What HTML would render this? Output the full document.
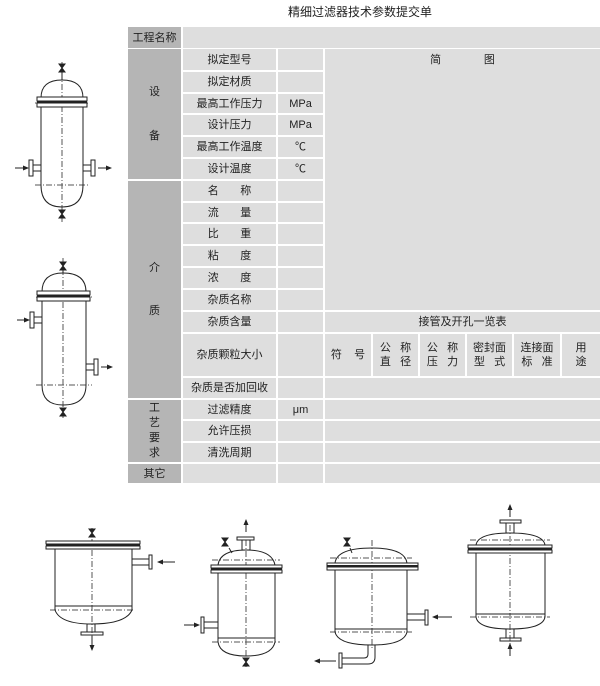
<!DOCTYPE html>
<html><head><meta charset="utf-8">
<style>
html,body{margin:0;padding:0;background:#fff;}
body{width:600px;height:686px;position:relative;overflow:hidden;font-family:"Liberation Sans","Noto Sans CJK SC",sans-serif;font-size:11px;color:#222;}
.c{position:absolute;box-sizing:border-box;display:flex;align-items:center;justify-content:center;text-align:center;line-height:14px;}
.d{background:#b5b5b5;}
.l{background:#dedede;}
#title{position:absolute;left:288px;top:3px;font-size:12px;}
svg{position:absolute;left:0;top:0;}
</style></head><body>
<div id="title">精细过滤器技术参数提交单</div>
<div style="position:absolute;left:128px;top:27px;width:472px;height:456px;background:#fff;"></div>

<!-- column 1 -->
<div class="c d" style="left:128px;top:27px;width:53px;height:21px;">工程名称</div>
<div class="c l" style="left:183px;top:27px;width:417px;height:21px;"></div>
<div class="c d" style="left:128px;top:49px;width:53px;height:130px;flex-direction:column;"><span>设</span><span style="margin-top:30px">备</span></div>
<div class="c d" style="left:128px;top:181px;width:53px;height:217px;flex-direction:column;"><span>介</span><span style="margin-top:29px">质</span></div>
<div class="c d" style="left:128px;top:400px;width:53px;height:62px;flex-direction:column;line-height:15px;"><span>工</span><span>艺</span><span>要</span><span>求</span></div>
<div class="c d" style="left:128px;top:464px;width:53px;height:19px;">其它</div>

<!-- col2 / col3 rows -->
<div class="c l" style="left:183px;top:49px;width:93px;height:21px;">拟定型号</div>
<div class="c l" style="left:278px;top:49px;width:45px;height:21px;"></div>
<div class="c l" style="left:183px;top:72px;width:93px;height:20px;">拟定材质</div>
<div class="c l" style="left:278px;top:72px;width:45px;height:20px;"></div>
<div class="c l" style="left:183px;top:94px;width:93px;height:19px;">最高工作压力</div>
<div class="c l" style="left:278px;top:94px;width:45px;height:19px;">MPa</div>
<div class="c l" style="left:183px;top:115px;width:93px;height:20px;">设计压力</div>
<div class="c l" style="left:278px;top:115px;width:45px;height:20px;">MPa</div>
<div class="c l" style="left:183px;top:137px;width:93px;height:20px;">最高工作温度</div>
<div class="c l" style="left:278px;top:137px;width:45px;height:20px;">℃</div>
<div class="c l" style="left:183px;top:159px;width:93px;height:20px;">设计温度</div>
<div class="c l" style="left:278px;top:159px;width:45px;height:20px;">℃</div>
<div class="c l" style="left:183px;top:181px;width:93px;height:20px;">名&nbsp;&nbsp;&nbsp;&nbsp;&nbsp;&nbsp;&nbsp;称</div>
<div class="c l" style="left:278px;top:181px;width:45px;height:20px;"></div>
<div class="c l" style="left:183px;top:203px;width:93px;height:19px;">流&nbsp;&nbsp;&nbsp;&nbsp;&nbsp;&nbsp;&nbsp;量</div>
<div class="c l" style="left:278px;top:203px;width:45px;height:19px;"></div>
<div class="c l" style="left:183px;top:224px;width:93px;height:20px;">比&nbsp;&nbsp;&nbsp;&nbsp;&nbsp;&nbsp;&nbsp;重</div>
<div class="c l" style="left:278px;top:224px;width:45px;height:20px;"></div>
<div class="c l" style="left:183px;top:246px;width:93px;height:20px;">粘&nbsp;&nbsp;&nbsp;&nbsp;&nbsp;&nbsp;&nbsp;度</div>
<div class="c l" style="left:278px;top:246px;width:45px;height:20px;"></div>
<div class="c l" style="left:183px;top:268px;width:93px;height:20px;">浓&nbsp;&nbsp;&nbsp;&nbsp;&nbsp;&nbsp;&nbsp;度</div>
<div class="c l" style="left:278px;top:268px;width:45px;height:20px;"></div>
<div class="c l" style="left:183px;top:290px;width:93px;height:20px;">杂质名称</div>
<div class="c l" style="left:278px;top:290px;width:45px;height:20px;"></div>
<div class="c l" style="left:183px;top:312px;width:93px;height:20px;">杂质含量</div>
<div class="c l" style="left:278px;top:312px;width:45px;height:20px;"></div>
<div class="c l" style="left:183px;top:334px;width:93px;height:42px;">杂质颗粒大小</div>
<div class="c l" style="left:278px;top:334px;width:45px;height:42px;"></div>
<div class="c l" style="left:183px;top:378px;width:93px;height:20px;">杂质是否加回收</div>
<div class="c l" style="left:278px;top:378px;width:45px;height:20px;"></div>
<div class="c l" style="left:183px;top:400px;width:93px;height:19px;">过滤精度</div>
<div class="c l" style="left:278px;top:400px;width:45px;height:19px;">μm</div>
<div class="c l" style="left:183px;top:421px;width:93px;height:20px;">允许压损</div>
<div class="c l" style="left:278px;top:421px;width:45px;height:20px;"></div>
<div class="c l" style="left:183px;top:443px;width:93px;height:19px;">清洗周期</div>
<div class="c l" style="left:278px;top:443px;width:45px;height:19px;"></div>
<div class="c l" style="left:183px;top:464px;width:93px;height:19px;"></div>
<div class="c l" style="left:278px;top:464px;width:45px;height:19px;"></div>

<!-- col4 -->
<div class="c l" style="left:325px;top:49px;width:275px;height:261px;align-items:flex-start;padding-top:4px;">简&nbsp;&nbsp;&nbsp;&nbsp;&nbsp;&nbsp;&nbsp;&nbsp;&nbsp;&nbsp;&nbsp;&nbsp;&nbsp;&nbsp;图</div>
<div class="c l" style="left:325px;top:312px;width:275px;height:20px;">接管及开孔一览表</div>
<div class="c l" style="left:325px;top:334px;width:46px;height:42px;">符&nbsp;&nbsp;&nbsp;&nbsp;号</div>
<div class="c l" style="left:373px;top:334px;width:45px;height:42px;">公&nbsp;&nbsp;&nbsp;称<br>直&nbsp;&nbsp;&nbsp;径</div>
<div class="c l" style="left:420px;top:334px;width:45px;height:42px;">公&nbsp;&nbsp;&nbsp;称<br>压&nbsp;&nbsp;&nbsp;力</div>
<div class="c l" style="left:467px;top:334px;width:45px;height:42px;">密封面<br>型&nbsp;&nbsp;&nbsp;式</div>
<div class="c l" style="left:514px;top:334px;width:46px;height:42px;">连接面<br>标&nbsp;&nbsp;&nbsp;准</div>
<div class="c l" style="left:562px;top:334px;width:38px;height:42px;">用<br>途</div>
<div class="c l" style="left:325px;top:378px;width:275px;height:20px;"></div>
<div class="c l" style="left:325px;top:400px;width:275px;height:19px;"></div>
<div class="c l" style="left:325px;top:421px;width:275px;height:20px;"></div>
<div class="c l" style="left:325px;top:443px;width:275px;height:19px;"></div>
<div class="c l" style="left:325px;top:464px;width:275px;height:19px;"></div>

<svg width="600" height="686" viewBox="0 0 600 686" fill="none" stroke="#222" stroke-width="1">
<defs>
<marker id="ar" markerWidth="6" markerHeight="6" refX="5" refY="3" orient="auto"><path d="M0,0.5 L6,3 L0,5.5 z" fill="#222" stroke="none"/></marker>
<g id="valve"><path d="M-3,-4 L3,-4 L-3,4 L3,4 Z" fill="#222"/></g>
</defs>
<g stroke-dasharray="6,2,1,2" stroke="#555">
<line x1="62" y1="62" x2="62" y2="222"/>
<line x1="63" y1="258" x2="63" y2="420"/>
<line x1="92" y1="528" x2="92" y2="640"/>
<line x1="246" y1="540" x2="246" y2="668"/>
<line x1="372" y1="540" x2="372" y2="650"/>
<line x1="510" y1="525" x2="510" y2="650"/>
<line x1="35" y1="103" x2="90" y2="103"/><line x1="35" y1="185" x2="90" y2="185"/>
<line x1="36" y1="297" x2="92" y2="297"/><line x1="36" y1="385" x2="92" y2="385"/>
<line x1="50" y1="610" x2="135" y2="610"/>
<line x1="212" y1="560" x2="280" y2="560"/><line x1="212" y1="642" x2="280" y2="642"/>
<line x1="330" y1="558" x2="412" y2="558"/><line x1="330" y1="632" x2="412" y2="632"/>
<line x1="470" y1="540" x2="550" y2="540"/><line x1="470" y1="617" x2="550" y2="617"/>
</g>

<!-- V1 -->
<use href="#valve" x="62" y="68"/>
<line x1="62" y1="72" x2="62" y2="80"/>
<path d="M41,98 Q41,80 62,80 Q83,80 83,98"/>
<rect x="37" y="97" width="50" height="4" fill="#fff"/><rect x="37" y="103" width="50" height="4" fill="#fff"/>
<line x1="37" y1="102" x2="87" y2="102" stroke-width="2"/>
<line x1="41" y1="107" x2="41" y2="185"/><line x1="83" y1="107" x2="83" y2="185"/>
<path d="M41,185 Q41,207 62,207 Q83,207 83,185"/>
<use href="#valve" x="62" y="214"/>
<rect x="33" y="165" width="8" height="6"/><rect x="29" y="160" width="4" height="16"/>
<rect x="83" y="165" width="8" height="6"/><rect x="91" y="160" width="4" height="16"/>
<line x1="15" y1="168" x2="28" y2="168" marker-end="url(#ar)"/>
<line x1="98" y1="168" x2="111" y2="168" marker-end="url(#ar)"/>

<!-- V2 -->
<use href="#valve" x="63" y="266"/>
<line x1="63" y1="270" x2="63" y2="273"/>
<path d="M42,292 Q42,273 63,273 Q86,273 86,292"/>
<rect x="37" y="291" width="53" height="4" fill="#fff"/><rect x="37" y="297" width="53" height="4" fill="#fff"/>
<line x1="37" y1="296" x2="90" y2="296" stroke-width="2"/>
<line x1="42" y1="301" x2="42" y2="385"/><line x1="86" y1="301" x2="86" y2="385"/>
<path d="M42,385 Q42,405 63,405 Q86,405 86,385"/>
<use href="#valve" x="63" y="412"/>
<rect x="34" y="317" width="8" height="6"/><rect x="30" y="312" width="4" height="16"/>
<line x1="17" y1="320" x2="29" y2="320" marker-end="url(#ar)"/>
<rect x="86" y="364" width="8" height="6"/><rect x="94" y="359" width="4" height="16"/>
<line x1="101" y1="367" x2="112" y2="367" marker-end="url(#ar)"/>

<!-- V3 -->
<use href="#valve" x="92" y="533"/>
<rect x="46" y="541" width="94" height="3" fill="#fff"/><rect x="46" y="546" width="94" height="3" fill="#fff"/>
<line x1="46" y1="545" x2="140" y2="545" stroke-width="2"/>
<line x1="55" y1="549" x2="55" y2="610"/><line x1="132" y1="549" x2="132" y2="610"/>
<line x1="55" y1="606" x2="132" y2="606"/>
<path d="M55,610 Q60,624 92,624 Q126,624 132,610"/>
<rect x="87" y="624" width="8" height="8"/><rect x="81" y="632" width="22" height="3"/>
<line x1="92" y1="636" x2="92" y2="650" marker-end="url(#ar)"/>
<rect x="132" y="559" width="17" height="6"/><rect x="149" y="555" width="3" height="14"/>
<line x1="175" y1="562" x2="158" y2="562" marker-end="url(#ar)"/>

<!-- V4 -->
<use href="#valve" x="225" y="542"/>
<line x1="229" y1="548" x2="232" y2="553"/>
<line x1="246" y1="532" x2="246" y2="520" marker-end="url(#ar)"/>
<rect x="237" y="537" width="17" height="3"/><rect x="242" y="540" width="8" height="10"/>
<path d="M218,565 Q220,550 246,550 Q272,550 275,565"/>
<rect x="211" y="565" width="71" height="3" fill="#fff"/><rect x="211" y="570" width="71" height="3" fill="#fff"/>
<line x1="211" y1="569" x2="282" y2="569" stroke-width="2"/>
<line x1="218" y1="573" x2="218" y2="642"/><line x1="275" y1="573" x2="275" y2="642"/>
<line x1="218" y1="638" x2="275" y2="638"/>
<path d="M218,642 Q220,656 246,656 Q272,656 275,642"/>
<use href="#valve" x="246" y="662"/>
<rect x="204" y="622" width="14" height="6"/><rect x="201" y="617" width="3" height="16"/>
<line x1="184" y1="625" x2="199" y2="625" marker-end="url(#ar)"/>

<!-- V5 -->
<use href="#valve" x="347" y="542"/>
<line x1="350" y1="548" x2="352" y2="553"/>
<path d="M335,563 Q337,548 372,548 Q405,548 407,563"/>
<rect x="327" y="563" width="91" height="3" fill="#fff"/><rect x="327" y="567" width="91" height="3" fill="#fff"/>
<line x1="327" y1="566" x2="418" y2="566" stroke-width="2"/>
<line x1="335" y1="570" x2="335" y2="632"/><line x1="407" y1="570" x2="407" y2="632"/>
<line x1="335" y1="629" x2="407" y2="629"/>
<path d="M335,632 Q338,645 372,645 Q404,645 407,632"/>
<rect x="407" y="614" width="18" height="6"/><rect x="425" y="610" width="3" height="15"/>
<line x1="452" y1="617" x2="433" y2="617" marker-end="url(#ar)"/>
<path d="M368,645 L368,654 Q368,658 364,658 L342,658"/>
<path d="M375,645 L375,657 Q375,664 368,664 L342,664"/>
<rect x="339" y="653" width="3" height="15"/>
<line x1="336" y1="661" x2="315" y2="661" marker-end="url(#ar)"/>

<!-- V6 -->
<line x1="510" y1="517" x2="510" y2="505" marker-end="url(#ar)"/>
<rect x="500" y="520" width="21" height="3"/><rect x="506" y="523" width="8" height="10"/>
<path d="M476,545 Q478,533 510,533 Q543,533 545,545"/>
<rect x="468" y="545" width="84" height="3" fill="#fff"/><rect x="468" y="550" width="84" height="3" fill="#fff"/>
<line x1="468" y1="549" x2="552" y2="549" stroke-width="2"/>
<line x1="476" y1="553" x2="476" y2="617"/><line x1="545" y1="553" x2="545" y2="617"/>
<line x1="476" y1="614" x2="545" y2="614"/>
<path d="M476,617 Q478,629 510,629 Q543,629 545,617"/>
<rect x="506" y="629" width="8" height="9"/><rect x="500" y="638" width="21" height="3"/>
<line x1="510" y1="656" x2="510" y2="644" marker-end="url(#ar)"/>
</svg>
</body></html>
